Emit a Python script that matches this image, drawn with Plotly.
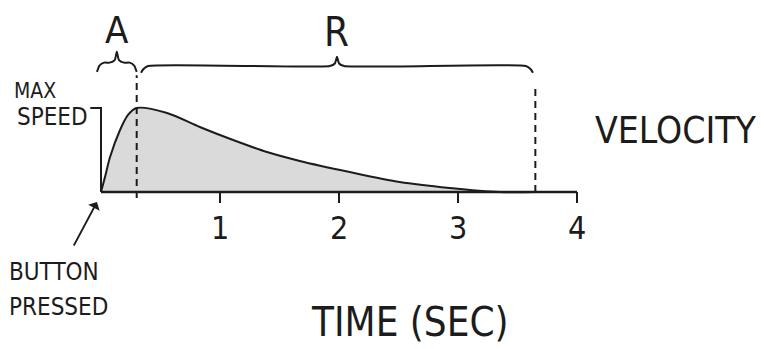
import plotly.graph_objects as go

# ---- data ----
time_s = [0, 0.034, 0.076, 0.16, 0.227, 0.30, 0.555, 0.83, 1.11, 1.395, 1.67, 2.09, 2.51, 2.93, 3.35, 3.65]
velocity = [0, 0.18, 0.417, 0.738, 0.917, 1.0, 0.94, 0.774, 0.619, 0.476, 0.37, 0.238, 0.119, 0.048, 0.0, 0.0]
x_ticks = [1, 2, 3, 4]
x_tick_labels = ["1", "2", "3", "4"]
attack_end = 0.30
release_end = 3.65
axis_end = 4
max_speed = 1.0
phase_labels = ["A", "R"]

# page offset: the browser body has an 8px margin
OFF = 8
W, H = 766 - OFF, 349 - OFF
INK = "#1c1c1c"
FONT = "Liberation Sans Narrow, DejaVu Sans Condensed, Arial Narrow, sans-serif"

fig = go.Figure()

# filled velocity curve
fig.add_trace(go.Scatter(
    x=time_s, y=velocity, mode="lines", line=dict(color=INK, width=2, shape="spline", smoothing=0.8),
    fill="tozeroy", fillcolor="#dadada", hoverinfo="skip", showlegend=False))

# x axis line + ticks
fig.add_trace(go.Scatter(x=[0, axis_end], y=[0, 0], mode="lines",
                         line=dict(color=INK, width=2.5), showlegend=False, hoverinfo="skip"))
tx, ty = [], []
for t in x_ticks:
    tx += [t, t, None]
    ty += [0, -0.13, None]
fig.add_trace(go.Scatter(x=tx, y=ty, mode="lines", line=dict(color=INK, width=2),
                         showlegend=False, hoverinfo="skip"))
# y axis line + max speed tick
fig.add_trace(go.Scatter(x=[-0.09, 0, 0], y=[max_speed, max_speed, 0], mode="lines",
                         line=dict(color=INK, width=2), showlegend=False, hoverinfo="skip"))

# dashed phase boundaries
fig.add_trace(go.Scatter(x=[attack_end, attack_end], y=[-0.07, 1.39], mode="lines",
                         line=dict(color=INK, width=2, dash="7px,5px"), showlegend=False, hoverinfo="skip"))
fig.add_trace(go.Scatter(x=[release_end, release_end], y=[0, 1.25], mode="lines",
                         line=dict(color=INK, width=2, dash="7px,5px"), showlegend=False, hoverinfo="skip"))

# curly braces
def brace(x0, x1, yb, yl, ytip):
    xm = (x0 + x1) / 2
    d = 0.06
    xs = [x0, x0 + d * 0.35, x0 + d, xm - d, xm - d * 0.3, xm, xm + d * 0.3, xm + d, x1 - d, x1 - d * 0.35, x1]
    ys = [yb, yl - 0.035, yl, yl, yl + 0.03, ytip, yl + 0.03, yl, yl, yl - 0.035, yb]
    return xs, ys

bx, by = brace(-0.034, attack_end, 1.43, 1.54, 1.67)
fig.add_trace(go.Scatter(x=bx, y=by, mode="lines", line=dict(color=INK, width=2, shape="spline", smoothing=0.6),
                         showlegend=False, hoverinfo="skip"))
bx2, by2 = brace(attack_end + 0.036, release_end - 0.02, 1.42, 1.5, 1.61)
fig.add_trace(go.Scatter(x=bx2, y=by2, mode="lines", line=dict(color=INK, width=2, shape="spline", smoothing=0.6),
                         showlegend=False, hoverinfo="skip"))

# tick labels
for t, lab in zip(x_ticks, x_tick_labels):
    fig.add_annotation(x=t, y=-0.43, xref="x", yref="y", text=lab, showarrow=False,
                       xanchor="center", yanchor="middle",
                       font=dict(size=32, color=INK, family=FONT))

# phase labels
fig.add_annotation(x=(-0.034 + attack_end) / 2, y=1.93, xref="x", yref="y", text=phase_labels[0],
                   showarrow=False, xanchor="center", yanchor="middle",
                   font=dict(size=38, color=INK, family=FONT))
fig.add_annotation(x=(attack_end + release_end) / 2, y=1.91, xref="x", yref="y", text=phase_labels[1],
                   showarrow=False, xanchor="center", yanchor="middle",
                   font=dict(size=40, color=INK, family=FONT))

# arrow to origin
fig.add_annotation(x=-0.034, y=-0.12, ax=-0.235, ay=-0.655, xref="x", yref="y", axref="x", ayref="y",
                   text="", showarrow=True, arrowhead=1, arrowsize=1.2, arrowwidth=1.8, arrowcolor=INK)

# text labels (given in page pixels, converted to paper coords)
def px(x):
    return (x - OFF) / W

def py(y):
    return 1 - (y - OFF) / H

def label(text, x, y, size, xanchor="center"):
    fig.add_annotation(x=px(x), y=py(y), xref="paper", yref="paper", text=text, showarrow=False,
                       xanchor=xanchor, yanchor="middle",
                       font=dict(size=size, color=INK, family=FONT))

label("MAX", 35, 91, 21)
label("SPEED", 52, 117, 24)
label("BUTTON", 7, 272, 24, xanchor="left")
label("PRESSED", 7, 307, 24, xanchor="left")
label("VELOCITY", 676, 130, 37)
label("TIME (SEC)", 410, 322, 40)

# pixel-matched ranges: x=0 at page 101px, 119px/sec; v=0 at page 192px, 84px per max speed
x0p, y0p = 101 - OFF, 192 - OFF
fig.update_layout(
    width=W, height=H, margin=dict(l=0, r=0, t=0, b=0),
    paper_bgcolor="white", plot_bgcolor="white",
    xaxis=dict(visible=False, range=[-x0p / 119, (W - x0p) / 119], fixedrange=True),
    yaxis=dict(visible=False, range=[-(H - y0p) / 84, y0p / 84], fixedrange=True),
    showlegend=False,
)

fig.write_html("out.html")
